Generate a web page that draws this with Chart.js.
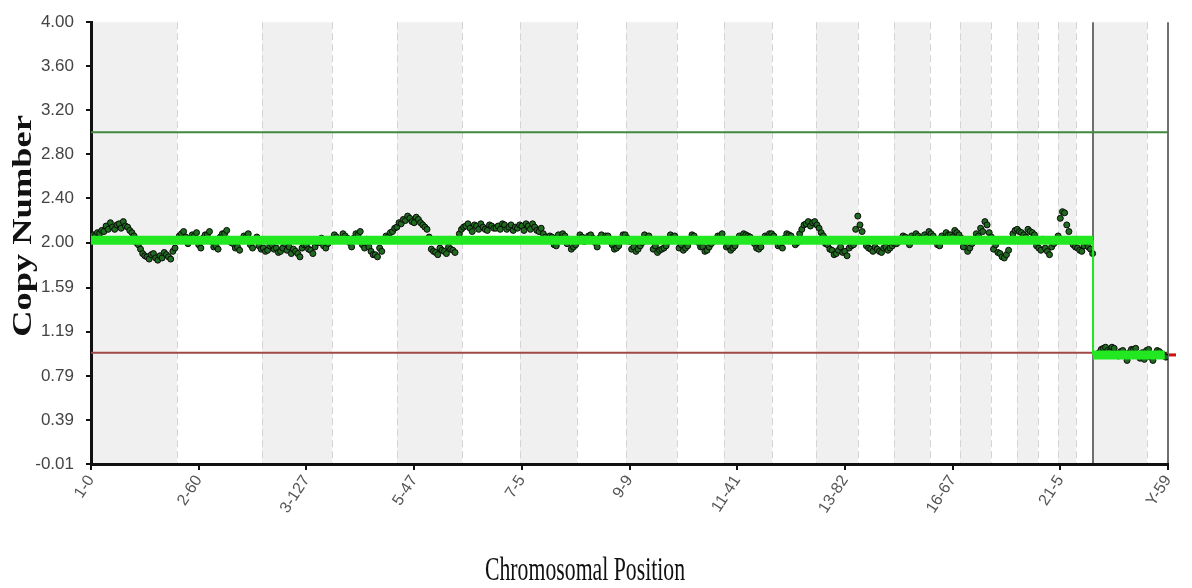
<!DOCTYPE html>
<html>
<head>
<meta charset="utf-8">
<script src="https://cdn.jsdelivr.net/npm/chart.js@4"></script>
<style>
  html, body { margin: 0; padding: 0; background: #fff; }
  #wrap { width: 1192px; height: 588px; position: relative; }
</style>
</head>
<body>
<div id="wrap"><canvas id="cnChart"></canvas></div>
<script>
// x axis: genome index 0..1000, labels at every 100
const tickPositions = [0, 100, 200, 300, 400, 500, 600, 700, 800, 900, 1000];
const tickLabels = ['1-0', '2-60', '3-127', '5-47', '7-5', '9-9', '11-41', '13-82', '16-67', '21-5', 'Y-59'];
const yTicks = [-0.01, 0.39, 0.79, 1.19, 1.59, 2.00, 2.40, 2.80, 3.20, 3.60, 4.00];

// chromosome boundaries (chr1 .. chr22, X, Y)
const chromBounds = [0, 79.9, 158.8, 223.8, 284.1, 344.5, 398.3, 451.3, 496.7, 544.1, 587.7, 632.3,
  673.2, 712.2, 745.6, 779.0, 806.9, 835.7, 859.8, 879.3, 897.9, 914.6, 930.4, 980.5, 1000];
const xChromStart = 930.4;

const upperThreshold = 3.0;
const lowerThreshold = 1.0;

// copy number per probe window, autosomes, windows at 0, 4, 8 ...
const autosomeStep = 4;
const autosomeValues = [
  2.04, 2.06, 2.08, 2.10, 2.12, 2.14, 2.16, 2.13, 2.15, 2.11,
  2.06, 1.98,
  1.90, 1.87, 1.89, 1.86, 1.88, 1.91, 1.87, 1.92,
  2.02, 2.08, 2.05, 2.03, 2.06, 1.98, 2.04, 2.07, 2.01, 1.97, 2.05, 2.08, 2.03, 1.99, 1.96, 2.03, 2.05, 1.98, 2.02, 1.97,
  1.95, 1.93, 1.98, 1.95, 1.92, 1.99, 1.96, 1.94, 1.90, 1.95, 1.98, 1.93, 1.96, 2.00, 1.97, 1.99,
  2.02, 2.05, 2.03, 2.06, 2.00, 2.04, 2.07, 1.98, 2.03, 1.92, 1.89, 1.95, 2.02, 2.05, 2.10, 2.14,
  2.17, 2.20, 2.22, 2.18, 2.21, 2.16, 2.12,
  1.94, 1.91, 1.95, 1.92, 1.96, 1.93, 2.02,
  2.12, 2.15, 2.13, 2.16, 2.12, 2.14, 2.11, 2.15, 2.13, 2.12, 2.16, 2.14, 2.11, 2.13, 2.15, 2.17, 2.12, 2.14, 2.10, 2.08,
  2.03, 2.05, 1.97, 2.04, 2.06, 2.02, 1.96, 2.01, 2.05, 2.03, 2.07, 2.00, 2.04,
  2.02, 2.06, 1.98, 1.95, 2.03, 2.07, 2.01, 1.96, 1.94, 2.00, 2.04, 2.02, 1.97, 1.93, 1.95, 2.01, 2.05, 2.03, 1.98, 1.95, 2.02, 2.06, 2.00,
  1.96, 1.93, 1.99, 2.03, 2.06, 2.02, 1.97, 1.95, 2.01, 2.04, 2.07, 2.05, 1.99, 1.94, 2.02, 2.05, 2.08, 2.03, 1.98, 2.04, 2.07, 2.02, 2.00,
  2.12, 2.17, 2.15, 2.19, 2.13, 2.06, 1.98,
  1.93, 1.90, 1.96, 1.92, 1.95, 1.98, 2.24,
  2.10, 1.97, 1.94, 1.96, 1.92, 1.95, 1.93, 1.97, 1.99,
  2.03, 2.05, 1.98, 2.04, 2.06, 2.02, 2.05, 2.08, 2.03, 1.97, 2.04, 2.07, 2.05, 2.09, 2.04, 2.00, 1.95, 2.03, 2.06, 2.10, 2.16, 2.05, 1.98,
  1.90, 1.86, 1.93, 2.08, 2.12, 2.09, 2.05, 2.10, 2.07, 1.95, 2.03, 1.92,
  1.96, 2.01, 2.22, 2.27, 2.10, 1.98, 1.95, 1.92, 2.00, 1.94
];
// windows in between, at 2, 6, 10 ...
const autosomeOffset = 2;
const autosomeValuesB = [
  2.07, 2.09, 2.11, 2.15, 2.18, 2.12, 2.17, 2.19, 2.14, 2.09,
  2.00, 1.94,
  1.88, 1.85, 1.90, 1.84, 1.86, 1.89, 1.85, 1.95,
  2.06, 2.10, 1.99, 2.07, 2.09, 1.95, 2.07, 2.10, 1.96, 1.94, 2.08, 2.11, 2.00, 1.95, 1.93, 2.06, 2.08, 1.95, 2.05, 1.94,
  1.92, 1.97, 1.94, 1.91, 1.95, 1.93, 1.90, 1.92, 1.87, 1.98, 1.94, 1.90, 2.00, 2.04, 1.95, 2.03,
  2.07, 2.03, 2.08, 2.04, 1.96, 2.08, 2.10, 1.95, 1.96, 1.89, 1.87, 1.92, 2.06, 2.09, 2.13, 2.18,
  2.21, 2.24, 2.19, 2.23, 2.18, 2.14, 2.05,
  1.92, 1.89, 1.93, 1.90, 1.94, 1.91, 2.08,
  2.14, 2.17, 2.10, 2.15, 2.17, 2.12, 2.16, 2.13, 2.15, 2.17, 2.12, 2.16, 2.14, 2.16, 2.11, 2.15, 2.17, 2.11, 2.13, 2.05,
  2.06, 1.98, 2.07, 2.08, 1.99, 1.94, 1.98, 2.07, 2.01, 2.06, 2.04, 1.96, 2.07,
  2.06, 2.01, 1.94, 1.97, 2.07, 2.04, 1.94, 1.92, 1.97, 2.07, 2.06, 1.94, 1.91, 1.94, 1.97, 2.07, 2.06, 1.95, 1.93, 1.97, 2.07, 2.03, 1.96,
  1.92, 1.96, 2.01, 2.06, 2.08, 1.96, 1.93, 1.97, 2.06, 2.08, 2.06, 2.02, 1.95, 1.96, 2.06, 2.08, 2.06, 1.97, 1.95, 2.08, 2.06, 1.98, 2.08,
  2.16, 2.19, 2.18, 2.16, 2.09, 1.99, 1.94,
  1.89, 1.93, 1.91, 1.88, 1.97, 2.12, 2.16,
  2.02, 1.95, 1.92, 1.94, 1.91, 1.96, 1.95, 1.99, 2.01,
  2.06, 2.01, 2.06, 2.08, 2.04, 2.07, 2.10, 2.06, 1.98, 2.06, 2.09, 2.07, 2.11, 2.07, 1.96, 1.92, 1.99, 2.08, 2.13, 2.19, 2.09, 1.94, 1.91,
  1.87, 1.89, 2.03, 2.11, 2.10, 2.07, 2.12, 2.09, 1.97, 1.93, 1.95, 1.89,
  1.99, 2.06, 2.28, 2.16, 2.01, 1.96, 1.93, 1.97, 1.96, 1.90
];

// chromosome X windows (from 936, every 2)
const xStart = 936;
const xStep = 2;
const xValues = [
  1.00, 1.03, 1.04, 1.05, 1.02, 1.01, 1.05, 1.04, 0.99, 0.97, 1.01, 1.02, 0.97, 0.93, 1.00, 1.03,
  1.03, 1.04, 0.98, 0.95, 1.00, 0.94, 1.02, 1.03, 0.96, 0.93, 0.99, 1.02, 1.01, 0.99, 0.98, 0.96
];

// segmented calls
const segStarts = [0, 930.4];
const segEnds = [930.4, 997];
const segValues = [2.02, 0.98];

const pointData = [];
autosomeValues.forEach((v, i) => pointData.push({ x: i * autosomeStep, y: v }));
autosomeValuesB.forEach((v, i) => pointData.push({ x: autosomeOffset + i * autosomeStep, y: v }));
xValues.forEach((v, i) => pointData.push({ x: xStart + i * xStep, y: v }));
pointData.sort((a, b) => a.x - b.x);

const segData = [];
segStarts.forEach((s, i) => {
  segData.push({ x: s, y: segValues[i] });
  segData.push({ x: segEnds[i], y: segValues[i] });
});

const tickFont = { family: "'Liberation Sans Narrow', 'Liberation Sans', Arial, sans-serif", size: 16 };

// shaded chromosome bands + extra lines + titles
const bandPlugin = {
  id: 'bands',
  beforeDraw(chart) {
    const { ctx, chartArea: a, scales: { x } } = chart;
    ctx.save();
    ctx.fillStyle = '#f0f0f0';
    for (let i = 0; i < chromBounds.length - 1; i++) {
      if (i % 2 !== 0) continue;
      const x0 = x.getPixelForValue(chromBounds[i]);
      const x1 = x.getPixelForValue(chromBounds[i + 1]);
      ctx.fillRect(x0, a.top, x1 - x0, a.bottom - a.top);
    }
    ctx.strokeStyle = '#d4d4d4';
    ctx.lineWidth = 1;
    ctx.setLineDash([7, 4]);
    for (let i = 1; i < chromBounds.length - 1; i++) {
      if (chromBounds[i] === xChromStart) continue;
      const px = Math.round(x.getPixelForValue(chromBounds[i])) + 0.5;
      ctx.beginPath();
      ctx.moveTo(px, a.top);
      ctx.lineTo(px, a.bottom);
      ctx.stroke();
    }
    ctx.setLineDash([]);
    ctx.strokeStyle = '#6f6f6f';
    ctx.lineWidth = 2;
    [xChromStart, 1000].forEach(v => {
      const px = Math.round(x.getPixelForValue(v));
      ctx.beginPath();
      ctx.moveTo(px, a.top);
      ctx.lineTo(px, a.bottom);
      ctx.stroke();
    });
    ctx.restore();
  },
  afterDraw(chart) {
    const { ctx, chartArea: a, scales: { y } } = chart;
    ctx.save();
    // small red marker right of the plot
    ctx.strokeStyle = '#cc1010';
    ctx.lineWidth = 3;
    const ry = y.getPixelForValue(segValues[1]);
    ctx.beginPath();
    ctx.moveTo(a.right + 1, ry);
    ctx.lineTo(a.right + 8, ry);
    ctx.stroke();

    ctx.fillStyle = '#111';
    ctx.textAlign = 'center';
    ctx.textBaseline = 'alphabetic';
    // y title
    ctx.save();
    ctx.translate(31, 226);
    ctx.rotate(-Math.PI / 2);
    ctx.scale(1.35, 1);
    ctx.font = "bold 27px 'Liberation Serif', 'Times New Roman', serif";
    ctx.fillText('Copy Number', 0, 0);
    ctx.restore();
    // x title
    ctx.save();
    ctx.translate(585, 580);
    ctx.scale(0.64, 1);
    ctx.font = "34px 'Liberation Serif', 'Times New Roman', serif";
    ctx.fillText('Chromosomal Position', 0, 0);
    ctx.restore();
    ctx.restore();
  }
};

new Chart(document.getElementById('cnChart'), {
  type: 'scatter',
  data: {
    datasets: [
      {
        label: 'segments',
        data: segData,
        showLine: true,
        borderColor: '#22e822',
        borderWidth: 9,
        pointRadius: 0,
        borderCapStyle: 'butt',
        segment: {
          borderWidth: ctx => (ctx.p0.parsed.x === ctx.p1.parsed.x ? 2 : 9)
        },
        order: 0
      },
      {
        label: 'copy number',
        data: pointData,
        pointRadius: 3,
        pointBackgroundColor: '#1f6b1f',
        pointBorderColor: '#0a0a0a',
        pointBorderWidth: 1,
        order: 1
      },
      {
        label: 'gain',
        data: [{ x: 0, y: upperThreshold }, { x: 1000, y: upperThreshold }],
        showLine: true,
        borderColor: '#3f8a3f',
        borderWidth: 2,
        pointRadius: 0,
        order: 2
      },
      {
        label: 'loss',
        data: [{ x: 0, y: lowerThreshold }, { x: 1000, y: lowerThreshold }],
        showLine: true,
        borderColor: '#a04848',
        borderWidth: 2,
        pointRadius: 0,
        order: 2
      }
    ]
  },
  options: {
    responsive: true,
    maintainAspectRatio: false,
    animation: false,
    layout: { padding: { top: 20, right: 24, left: 0, bottom: 0 } },
    plugins: {
      legend: { display: false },
      tooltip: { enabled: false }
    },
    scales: {
      x: {
        type: 'linear',
        min: 0,
        max: 1000,
        afterBuildTicks: scale => { scale.ticks = tickPositions.map(v => ({ value: v })); },
        afterFit: scale => { scale.height = 124; },
        ticks: {
          autoSkip: false,
          minRotation: 57,
          maxRotation: 57,
          padding: 2,
          color: '#555',
          font: tickFont,
          callback: (v) => tickLabels[tickPositions.indexOf(v)]
        },
        grid: { drawOnChartArea: false, drawTicks: true, tickLength: 6, color: '#111', lineWidth: 2 },
        border: { display: true, color: '#111', width: 3 }
      },
      y: {
        min: -0.01,
        max: 4.00,
        afterBuildTicks: scale => { scale.ticks = yTicks.map(v => ({ value: v })); },
        afterFit: scale => { scale.width = 91; },
        ticks: {
          padding: 12,
          color: '#444',
          font: { ...tickFont, size: 17 },
          callback: v => Number(v).toFixed(2)
        },
        grid: { drawOnChartArea: false, drawTicks: true, tickLength: 5, color: '#111', lineWidth: 2 },
        border: { display: true, color: '#111', width: 3 }
      }
    }
  },
  plugins: [bandPlugin]
});
</script>
</body>
</html>
